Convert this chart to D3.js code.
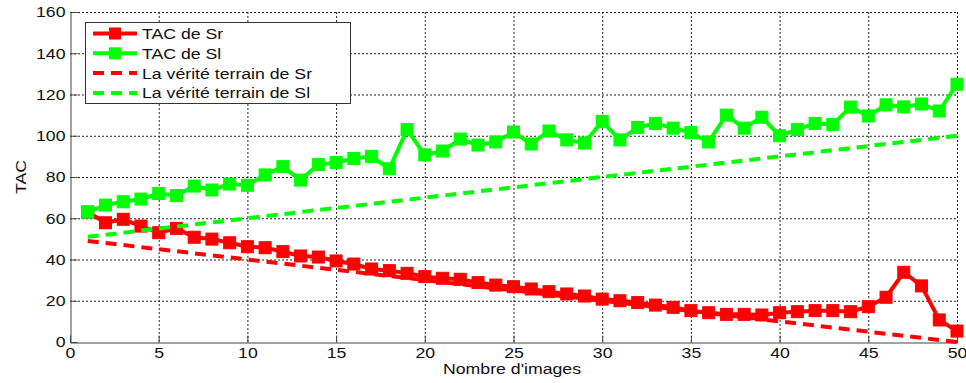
<!DOCTYPE html>
<html><head><meta charset="utf-8">
<script src="https://cdn.jsdelivr.net/npm/d3@7/dist/d3.min.js"></script>
<style>
body{margin:0;background:#fff;}
text{font-family:"Liberation Sans",Arial,sans-serif;}
</style></head>
<body><svg id="c" width="966" height="383"></svg>
<script>
const xValues = d3.range(1, 51);
const tacSr = [63,57.8,59.5,56.2,53,55.1,50.8,49.9,48.1,46.2,45.7,43.8,41.7,41.2,39.3,37.8,35.4,34.6,33.3,31.7,30.9,30.4,28.8,27.6,26.8,25.7,24.4,23.3,22.3,20.8,20,19.1,17.9,16.8,15.2,14.2,13.4,13.4,13.1,14.2,14.7,15.2,15.2,14.7,17.1,21.7,33.8,27.2,10.7,5.3];
const tacSl = [63,66.4,68,69.3,72,71,75.6,73.7,76.6,76,81,85,78.5,86,87,89,90,84,103,90.7,92.6,98.4,95.5,97,101.8,96,102.3,98,96.5,107,98,104,106,103.7,101.5,97,110,103.7,109,100,103,106,105.5,113.9,109.6,115,114,115.4,112,125];
const truthSr = [49,0];
const truthSl = [51,100];
const truthX = [1,50];
const xTicks = [0,5,10,15,20,25,30,35,40,45,50];
const yTicks = [0,20,40,60,80,100,120,140,160];
const legendLabels = ["TAC de Sr","TAC de Sl","La vérité terrain de Sr","La vérité terrain de Sl"];

const RED = "#ff0000", GREEN = "#00ff00";
const SX = 1.18;
const svg = d3.select("#c");
const L = 70, R = 957, T = 12, B = 342;
const x = d3.scaleLinear().domain([0,50]).range([L,R]);
const y = d3.scaleLinear().domain([0,160]).range([B,T]);

// grid
const grid = svg.append("g").attr("stroke","#222").attr("stroke-width",1).attr("stroke-dasharray","2,2");
xTicks.filter(d=>d>0).forEach(d=>grid.append("line").attr("x1",x(d)+0.5).attr("x2",x(d)+0.5).attr("y1",B).attr("y2",T));
yTicks.filter(d=>d>0).forEach(d=>grid.append("line").attr("y1",y(d)+0.5).attr("y2",y(d)+0.5).attr("x1",L).attr("x2",R));

// axes
const xa = svg.append("g").attr("transform",`translate(0,${B+0.5})`)
  .call(d3.axisBottom(x).tickValues(xTicks).tickSize(-7).tickPadding(5).tickFormat(d3.format("d")));
const ya = svg.append("g").attr("transform",`translate(${L+0.5},0)`)
  .call(d3.axisLeft(y).tickValues(yTicks).tickSize(-7).tickPadding(5).tickFormat(d3.format("d")));
[xa,ya].forEach(a=>{
  a.select(".domain").attr("stroke","#444");
  a.selectAll(".tick line").attr("stroke","#444");
  a.selectAll(".tick text").attr("font-size",15).attr("fill","#111")
    .attr("font-family","Liberation Sans, Arial, sans-serif");
});
xa.selectAll(".tick text").attr("transform",`scale(${SX},1)`);
ya.selectAll(".tick text").attr("x",-5/SX).attr("transform",`scale(${SX},1)`);

// labels
function label(txt, cx, cy, rot){
  const g = svg.append("g").attr("transform",`translate(${cx},${cy}) rotate(${rot||0})`);
  g.append("text").attr("text-anchor","middle").attr("dominant-baseline","central")
   .attr("font-size",15).attr("fill","#111").attr("transform",`scale(${SX},1)`).text(txt);
}
label("Nombre d'images", 512, 369, 0);
label("TAC", 21, 177, -90);

const line = d3.line().x(d=>x(d[0])).y(d=>y(d[1]));
function solid(vals, col){
  const pts = xValues.map((d,i)=>[d,vals[i]]);
  const g = svg.append("g");
  g.append("path").datum(pts).attr("d",line).attr("fill","none").attr("stroke",col).attr("stroke-width",4).attr("stroke-linejoin","round");
  g.selectAll("rect").data(pts).enter().append("rect")
   .attr("x",d=>x(d[0])-6).attr("y",d=>y(d[1])-6).attr("width",12).attr("height",12)
   .attr("fill",col).attr("stroke",col).attr("stroke-width",1);
}
function dashed(vals, col){
  const pts = truthX.map((d,i)=>[d,vals[i]]);
  svg.append("path").datum(pts).attr("d",line).attr("fill","none").attr("stroke",col)
   .attr("stroke-width",4).attr("stroke-dasharray","11,7");
}
solid(tacSr, RED);
solid(tacSl, GREEN);
dashed(truthSr, RED);
dashed(truthSl, GREEN);

// legend
const lg = svg.append("g");
lg.append("rect").attr("x",85.5).attr("y",22.5).attr("width",265).attr("height",81)
  .attr("fill","#fff").attr("stroke","#333").attr("stroke-width",1);
const cols = [RED,GREEN,RED,GREEN];
legendLabels.forEach((t,i)=>{
  const cy = 33.5 + i*19.8;
  const l = lg.append("line").attr("x1",93).attr("x2",137).attr("y1",cy).attr("y2",cy)
    .attr("stroke",cols[i]).attr("stroke-width",4);
  if(i>=2) l.attr("stroke-dasharray","11,7");
  if(i<2) lg.append("rect").attr("x",109).attr("y",cy-6).attr("width",12).attr("height",12).attr("fill",cols[i]);
  const g = lg.append("g").attr("transform",`translate(142,${cy})`);
  g.append("text").attr("dominant-baseline","central").attr("font-size",15).attr("fill","#111")
    .attr("transform",`scale(${SX},1)`).text(t);
});
</script></body></html>
